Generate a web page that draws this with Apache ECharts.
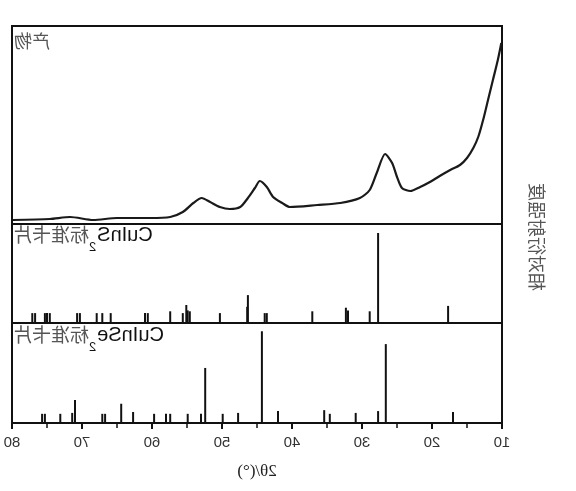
<!DOCTYPE html>
<html>
<head>
<meta charset="utf-8">
<script src="https://cdn.jsdelivr.net/npm/echarts@6/dist/echarts.min.js"></script>
<style>
  html, body { margin: 0; padding: 0; background: #fff; }
  /* the reference picture is a mirror image, so flip the whole chart */
  #chart { width: 576px; height: 491px; transform: scaleX(-1); }
</style>
</head>
<body>
<div id="chart"></div>
<script>
// product pattern, 2θ (°) and intensity (a.u.)
const productTheta = [10.1, 10.6, 11.3, 12.0, 12.7, 13.4, 14.1, 15.0, 16.0, 17.4, 18.9, 20.3, 21.7, 23.1, 24.3,
  25.0, 25.7, 26.7, 27.9, 28.9, 30.3, 33.1, 36.4, 40.3, 41.4, 42.7, 43.6, 44.6, 45.3, 46.3, 47.4, 48.9,
  50.3, 51.7, 52.9, 54.1, 55.6, 57.4, 60.3, 65.0, 68.4, 71.7, 74.6, 79.9];
const productInt = [181, 164, 144, 124, 104, 87, 76, 66, 59, 54, 48, 42, 37, 33, 36,
  47, 61, 70, 51, 34, 26, 21, 19, 17, 21, 27, 37, 43, 36, 26, 17, 15,
  17, 22, 26, 21, 12, 7, 6, 6, 4, 7, 5, 4];

// CuInS2 standard card, 2θ (°) and relative intensity (%)
const cuins2Theta = [17.7, 27.7, 28.9, 32.0, 32.3, 37.1, 43.6, 43.9, 46.3, 46.4, 50.3, 54.6, 54.9, 55.1, 55.6,
  57.4, 60.6, 61.0, 65.9, 67.1, 67.9, 70.3, 70.7, 74.6, 75.0, 75.3, 76.7, 77.1];
const cuins2Int = [19, 100, 13, 14, 17, 13, 11, 11, 31, 18, 11, 13, 14, 20, 11,
  13, 11, 11, 11, 11, 11, 11, 11, 11, 11, 11, 11, 11];

// CuInSe2 standard card, 2θ (°) and relative intensity (%)
const cuinse2Theta = [17.0, 26.6, 27.7, 30.9, 34.6, 35.4, 42.0, 44.3, 47.7, 49.9, 52.4, 53.0, 54.9, 57.4, 58.0,
  59.7, 62.7, 64.4, 66.7, 67.1, 71.0, 71.4, 73.1, 75.3, 75.7];
const cuinse2Int = [12, 86, 13, 11, 10, 14, 13, 100, 11, 10, 60, 10, 10, 10, 10,
  10, 12, 21, 10, 10, 25, 11, 10, 10, 10];

const xTicks = [10, 20, 30, 40, 50, 60, 70, 80];

const zip = (a, b) => a.map((v, i) => [v, b[i]]);

const chart = echarts.init(document.getElementById('chart'));

const gridBase = { left: 74, right: 12, show: true, borderColor: '#111', borderWidth: 2, backgroundColor: 'transparent' };
const hiddenX = {
  type: 'value', min: xTicks[0], max: xTicks[xTicks.length - 1], interval: 10,
  axisLine: { show: false }, axisTick: { show: false }, axisLabel: { show: false }, splitLine: { show: false }
};

const option = {
  animation: false,
  grid: [
    Object.assign({ top: 26, height: 198 }, gridBase),
    Object.assign({ top: 224, height: 99 }, gridBase),
    Object.assign({ top: 323, height: 100 }, gridBase)
  ],
  xAxis: [
    Object.assign({ gridIndex: 0 }, hiddenX),
    Object.assign({ gridIndex: 1 }, hiddenX),
    {
      gridIndex: 2, type: 'value', min: 10, max: 80, interval: 10,
      axisLine: { show: true, onZero: false, lineStyle: { color: '#111', width: 2 } },
      axisTick: { show: true, length: 6, lineStyle: { color: '#111', width: 2 } },
      minorTick: { show: true, splitNumber: 2, length: 5, lineStyle: { color: '#111', width: 1.5 } },
      axisLabel: { color: '#333', fontSize: 15, fontFamily: 'Liberation Sans', margin: 12 },
      splitLine: { show: false }
    }
  ],
  yAxis: [
    { gridIndex: 0, type: 'value', min: 0, max: 198, show: false },
    { gridIndex: 1, type: 'value', min: 0, max: 110, show: false },
    { gridIndex: 2, type: 'value', min: 0, max: 109, show: false }
  ],
  series: [
    {
      type: 'line', xAxisIndex: 0, yAxisIndex: 0,
      data: zip(productTheta, productInt),
      smooth: 0.25, showSymbol: false,
      lineStyle: { color: '#1a1a1a', width: 2.2 }
    },
    {
      type: 'bar', xAxisIndex: 1, yAxisIndex: 1,
      data: zip(cuins2Theta, cuins2Int),
      barWidth: 2, itemStyle: { color: '#111' }
    },
    {
      type: 'bar', xAxisIndex: 2, yAxisIndex: 2,
      data: zip(cuinse2Theta, cuinse2Int),
      barWidth: 2, itemStyle: { color: '#111' }
    }
  ],
  graphic: [
    {
      type: 'text', x: 562, y: 32,
      style: { text: '产物', align: 'right', verticalAlign: 'top', fill: '#555', fontSize: 18, fontFamily: 'Noto Sans CJK SC' }
    },
    {
      type: 'text', x: 563, y: 225,
      style: {
        text: '{a|CuInS}{s|2}{b|标准卡片}', align: 'right', verticalAlign: 'top',
        rich: {
          a: { fontSize: 20, lineHeight: 20, fill: '#111', fontFamily: 'Liberation Sans', verticalAlign: 'top' },
          s: { fontSize: 13, lineHeight: 13, fill: '#111', fontFamily: 'Liberation Sans', verticalAlign: 'top', padding: [16, 0, 0, 1] },
          b: { fontSize: 19, lineHeight: 20, fill: '#555', fontFamily: 'Noto Sans CJK SC', verticalAlign: 'top' }
        }
      }
    },
    {
      type: 'text', x: 563, y: 325,
      style: {
        text: '{a|CuInSe}{s|2}{b|标准卡片}', align: 'right', verticalAlign: 'top',
        rich: {
          a: { fontSize: 20, lineHeight: 20, fill: '#111', fontFamily: 'Liberation Sans', verticalAlign: 'top' },
          s: { fontSize: 13, lineHeight: 13, fill: '#111', fontFamily: 'Liberation Sans', verticalAlign: 'top', padding: [16, 0, 0, 1] },
          b: { fontSize: 19, lineHeight: 20, fill: '#555', fontFamily: 'Noto Sans CJK SC', verticalAlign: 'top' }
        }
      }
    },
    {
      type: 'text', x: 39, y: 237, rotation: Math.PI / 2,
      style: { text: '相对衍射强度', align: 'center', verticalAlign: 'middle', fill: '#555', fontSize: 18, fontFamily: 'Noto Sans CJK SC' }
    },
    {
      type: 'text', x: 319, y: 472,
      style: { text: '2θ/(°)', align: 'center', verticalAlign: 'middle', fill: '#222', fontSize: 17, fontFamily: 'Liberation Serif' }
    }
  ]
};

chart.setOption(option);
</script>
</body>
</html>
